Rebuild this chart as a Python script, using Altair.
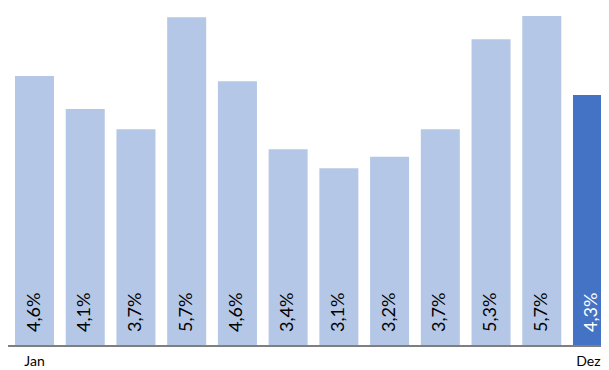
import altair as alt
import pandas as pd

months = ["Jan", "Feb", "Mär", "Apr", "Mai", "Jun", "Jul", "Aug", "Sep", "Okt", "Nov", "Dez"]
values = [4.68, 4.11, 3.76, 5.70, 4.59, 3.41, 3.08, 3.28, 3.76, 5.32, 5.72, 4.35]
labels = ["4,6%", "4,1%", "3,7%", "5,7%", "4,6%", "3,4%", "3,1%", "3,2%", "3,7%", "5,3%", "5,7%", "4,3%"]
highlight = [False] * 11 + [True]
axis_first = ["Jan"]
axis_last = ["Dez"]

df = pd.DataFrame({"month": months, "value": values, "label": labels, "hl": highlight})

W, H = 593, 338
yscale = alt.Scale(domain=[0, 5.86], nice=False)

x = alt.X("month:N", sort=months,
          scale=alt.Scale(range=[7, 604], paddingInner=0.231, paddingOuter=0),
          axis=None)
y = alt.Y("value:Q", scale=yscale, axis=None)

base = alt.Chart(df)

bars = base.mark_bar().encode(
    x=x, y=y,
    color=alt.Color("hl:N", scale=alt.Scale(domain=[False, True], range=["#b4c7e7", "#4472c4"]), legend=None),
)

text = base.mark_text(angle=270, align="left", baseline="middle", dx=14, font="Lato", fontSize=18).encode(
    x=x,
    y=alt.datum(0),
    text="label:N",
    color=alt.Color("hl:N", scale=alt.Scale(domain=[False, True], range=["#000000", "#ffffff"]), legend=None),
)

rule = alt.Chart(pd.DataFrame({"v": [0]})).mark_rule(color="#7f7f7f", strokeWidth=2).encode(
    y=alt.Y("v:Q", scale=yscale, axis=None),
    x=alt.value(0), x2=alt.value(W),
)

first_lbl = alt.Chart(pd.DataFrame({"month": axis_first})).mark_text(
    align="center", baseline="alphabetic", dy=20, font="Lato", fontSize=14, color="#000000"
).encode(x=x, y=alt.datum(0), text="month:N")

last_lbl = alt.Chart(pd.DataFrame({"month": axis_last})).mark_text(
    align="right", baseline="alphabetic", dx=8, dy=20, font="Lato", fontSize=14, color="#000000"
).encode(x=x, y=alt.datum(0), text="month:N")

chart = alt.layer(bars, rule, text, first_lbl, last_lbl).properties(
    width=W, height=H,
    padding={"left": 0, "top": 0, "right": 0, "bottom": 22},
    autosize=alt.AutoSizeParams(type="none"),
).resolve_scale(color="independent").configure_view(stroke=None)

chart.save("out.html", embed_options={"renderer": "svg", "actions": False})
